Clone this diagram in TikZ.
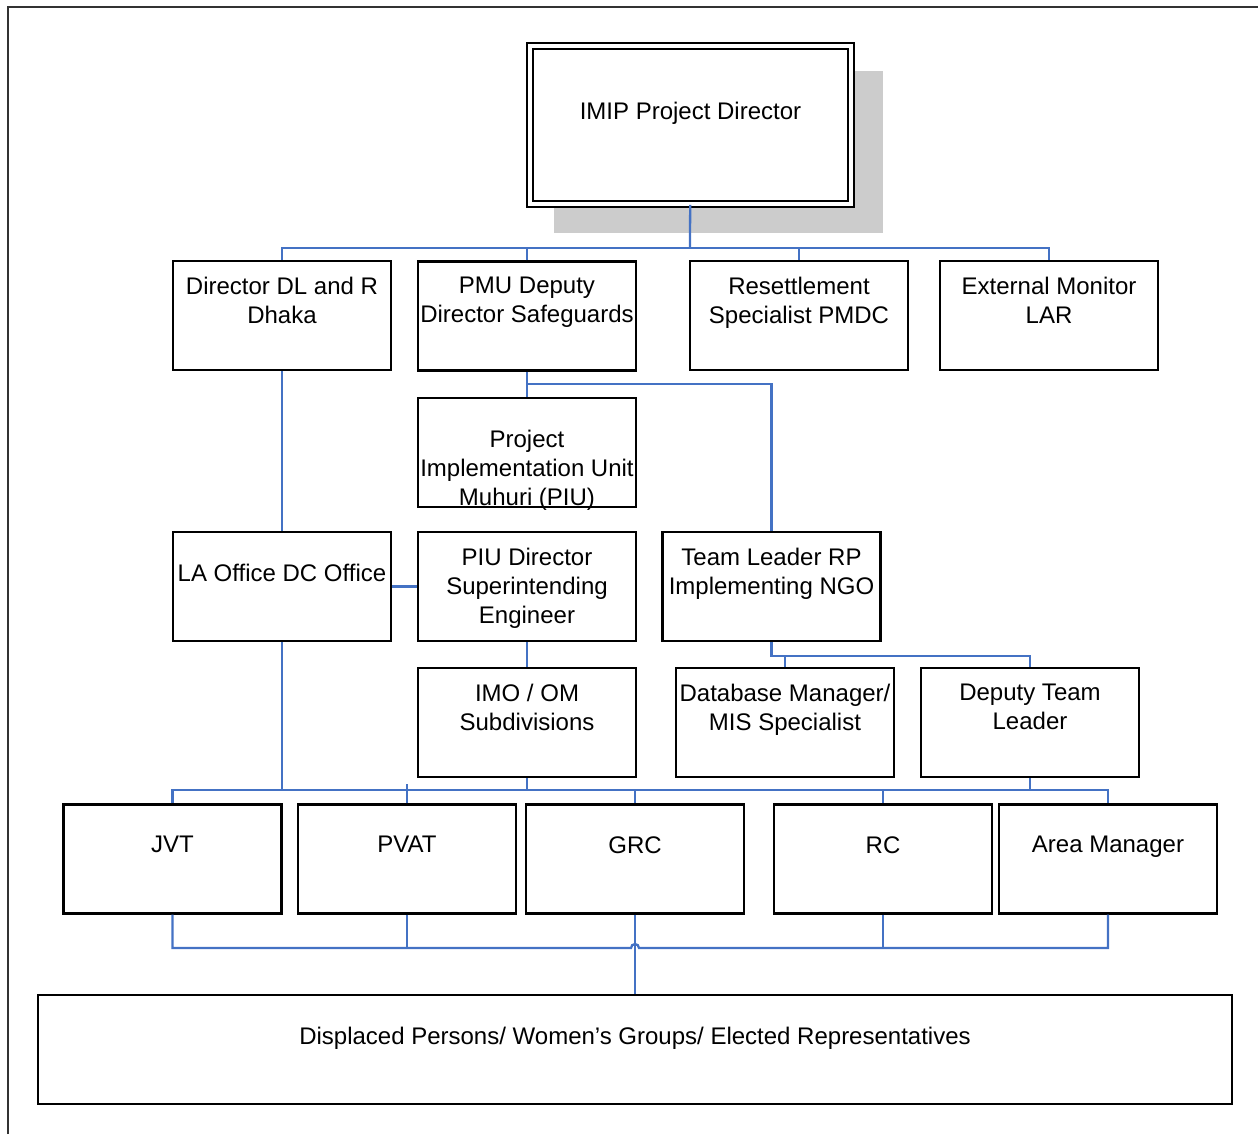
\documentclass[tikz,border=0pt]{standalone}
\usepackage{fontspec}
\setmainfont{Liberation Sans}
\usetikzlibrary{calc,shadows}
\definecolor{linkblue}{RGB}{68,114,196}
\tikzset{
  unit/.style={draw, line width=1.2pt, minimum width=4.36cm, minimum height=2.18cm, inner sep=0pt},
  txt/.style={align=center, inner sep=0pt, font=\fontsize{13.66pt}{16.5pt}\selectfont},
  says/.style={label={[txt, anchor=north, yshift=-0.33cm]north:{#1}}},
  sayslow/.style={label={[txt, anchor=north, yshift=-0.65cm]north:{#1}}},
  link/.style={draw=linkblue, line width=1.3pt},
}
\begin{document}
\begin{tikzpicture}[x=0.02cm, y=-0.02cm]
\useasboundingbox (0,0) rectangle (1258,1134);
\draw[black!80, line width=1.1pt] (8,1134) -- (8,7) -- (1258,7);

% top box
\node[draw, fill=white, double, line width=1.1pt, double distance=2.3pt,
      minimum width=6.42cm, minimum height=3.16cm,
      drop shadow={shadow xshift=0.54cm, shadow yshift=-0.53cm, shadow scale=1.025, fill=black!20, opacity=1},
      label={[txt, anchor=north, yshift=-1.14cm]north:IMIP Project Director}] (imip) at (690.5,125) {};

% second row
\node[unit, says={Director DL and R\\Dhaka}] (dirdl) at (282,315.5) {};
\node[unit, says={PMU Deputy\\Director Safeguards}] (pmu) at (527,316) {};
\node[unit, says={Resettlement\\Specialist PMDC}] (resett) at (799,315.5) {};
\node[unit, says={External Monitor\\LAR}] (extmon) at (1049,315.5) {};

\node[unit, sayslow={Project\\Implementation Unit\\Muhuri (PIU)}] (piu) at (527,452.5) {};

% middle rows
\node[unit, sayslow={LA Office DC Office}] (laoff) at (282,586.5) {};
\node[unit, says={PIU Director\\Superintending\\Engineer}] (piudir) at (527,586.5) {};
\node[unit, says={Team Leader RP\\Implementing NGO}] (tlrp) at (771.5,586.5) {};

\node[unit, says={IMO / OM\\Subdivisions}] (imo) at (527,722.5) {};
\node[unit, says={Database Manager/\\MIS Specialist}] (dbm) at (785,722.5) {};
\node[unit, says={Deputy Team\\Leader}] (dtl) at (1030,722.5) {};

% field level
\node[unit, sayslow={JVT}] (jvt) at (172.5,859) {};
\node[unit, sayslow={PVAT}] (pvat) at (407,859) {};
\node[unit, sayslow={GRC}] (grc) at (635,859) {};
\node[unit, sayslow={RC}] (rc) at (883,859) {};
\node[unit, sayslow={Area Manager}] (area) at (1108,859) {};

\node[unit, minimum width=23.88cm, sayslow={Displaced Persons/ Women’s Groups/ Elected Representatives}] (dp) at (635,1049.5) {};

% connectors
\coordinate (bus1) at (690,248);
\coordinate (pmuk) at (527,384);
\coordinate (tlk) at (1030,656);
\coordinate (busL) at (282,790);
\coordinate (pvtick) at (407,784);
\coordinate (busB) at (635,948);

\draw[link] (imip) -- (bus1);
\draw[link] (dirdl.north) |- (bus1) -| (extmon.north);
\draw[link] (pmu.north) -- (pmu.north |- bus1);
\draw[link] (resett.north) -- (resett.north |- bus1);

\draw[link] (pmu) -- (piu);
\draw[link] (pmuk) -| (tlrp.north);
\draw[link] (dirdl) -- (laoff);
\draw[link] (laoff) -- (piudir);
\draw[link] (piudir) -- (imo);
\draw[link] (tlrp.south) |- (tlk) -- (dtl.north);
\draw[link] (dbm.north) -- (dbm.north |- tlk);

\draw[link] (laoff) -- (busL);
\draw[link] (jvt.north) |- (busL) -| (imo.south);
\draw[link] (imo.south |- busL) -| (dtl.south);
\draw[link] (dtl.south |- busL) -| (area.north);
\draw[link] (pvat.north) -- (pvtick);
\draw[link] (grc.north) -- (grc.north |- busL);
\draw[link] (rc.north) -- (rc.north |- busL);

\draw[link] (jvt.south) |- ($(busB)+(-4,0)$) arc[start angle=180, end angle=360, radius=4] -| (area.south);
\draw[link] (pvat.south) -- (pvat.south |- busB);
\draw[link] (rc.south) -- (rc.south |- busB);
\draw[link] (grc) -- (dp);
\end{tikzpicture}
\end{document}
